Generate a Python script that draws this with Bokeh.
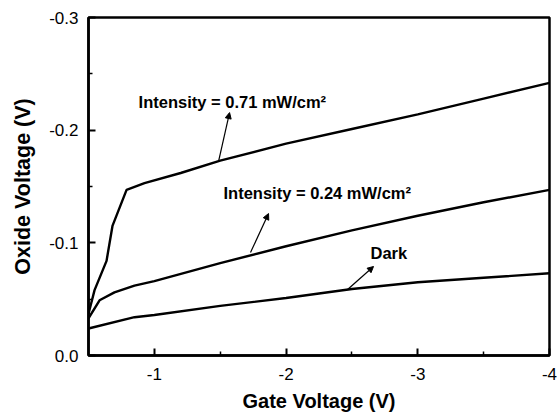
from bokeh.plotting import figure
from bokeh.models import Range1d, FixedTicker, Label, Arrow, NormalHead
from bokeh.embed import file_html
from bokeh.resources import INLINE

# ---- data ----
gate_071 = [-0.5, -0.546, -0.637, -0.682, -0.789, -0.925, -1.2, -1.5, -2.0, -2.5, -3.0, -3.5, -4.0]
oxide_071 = [-0.037, -0.058, -0.084, -0.115, -0.147, -0.153, -0.162, -0.173, -0.188, -0.201, -0.214, -0.228, -0.242]

gate_024 = [-0.5, -0.584, -0.697, -0.849, -1.0, -1.5, -2.0, -2.5, -3.0, -3.5, -4.0]
oxide_024 = [-0.033, -0.049, -0.056, -0.062, -0.066, -0.082, -0.097, -0.111, -0.124, -0.136, -0.147]

gate_dark = [-0.5, -0.849, -1.0, -1.5, -2.0, -2.5, -3.0, -3.5, -4.0]
oxide_dark = [-0.024, -0.034, -0.036, -0.044, -0.051, -0.059, -0.065, -0.069, -0.073]

x_ticks = [-1, -2, -3, -4]
x_tick_labels = ["-1", "-2", "-3", "-4"]
x_minor = [-1.5, -2.5, -3.5]
y_ticks = [0.0, -0.1, -0.2, -0.3]
y_tick_labels = ["0.0", "-0.1", "-0.2", "-0.3"]
y_minor = [-0.05, -0.15, -0.25]

label_texts = ["Intensity = 0.71 mW/cm\u00b2", "Intensity = 0.24 mW/cm\u00b2", "Dark"]
label_x = [-0.88, -1.525, -2.641]
label_y = [-0.2254, -0.1446, -0.0914]
arrow_x0 = [-1.487, -1.730, -2.467]
arrow_y0 = [-0.1721, -0.0914, -0.0586]
arrow_x1 = [-1.571, -1.867, -2.664]
arrow_y1 = [-0.2156, -0.126, -0.079]

FONT = "Liberation Sans"

p = figure(width=557, height=416, output_backend="svg", toolbar_location=None,
           x_range=Range1d(-0.5, -4.0), y_range=Range1d(0.0, -0.3),
           min_border_left=88, min_border_right=8, min_border_top=17, min_border_bottom=61)

p.background_fill_color = "white"
p.border_fill_color = "white"
p.outline_line_color = "black"
p.outline_line_width = 2.5
p.xgrid.visible = False
p.ygrid.visible = False

for ax in (p.xaxis[0], p.yaxis[0]):
    ax.axis_line_width = 2.5
    ax.axis_line_color = "black"
    ax.major_tick_in = 7
    ax.major_tick_out = 0
    ax.minor_tick_in = 4
    ax.minor_tick_out = 0
    ax.major_tick_line_width = 2
    ax.minor_tick_line_width = 1.5
    ax.major_label_text_font = FONT
    ax.major_label_text_font_size = "17px"
    ax.major_label_text_color = "black"
    ax.axis_label_text_font = FONT
    ax.axis_label_text_font_style = "bold"
    ax.axis_label_text_color = "black"

p.xaxis.axis_label_text_font_size = "20px"
p.yaxis.axis_label_text_font_size = "21.5px"

p.xaxis.ticker = FixedTicker(ticks=x_ticks, minor_ticks=x_minor)
p.xaxis.major_label_overrides = {t: l for t, l in zip(x_ticks, x_tick_labels)}
p.yaxis.ticker = FixedTicker(ticks=y_ticks, minor_ticks=y_minor)
p.yaxis.major_label_overrides = {t: l for t, l in zip(y_ticks, y_tick_labels)}

p.xaxis.axis_label = "Gate Voltage (V)"
p.yaxis.axis_label = "Oxide Voltage (V)"
p.xaxis.major_label_standoff = 12
p.xaxis.axis_label_standoff = 7
p.yaxis.major_label_standoff = 10
p.yaxis.axis_label_standoff = 11

for xs, ys in ((gate_071, oxide_071), (gate_024, oxide_024), (gate_dark, oxide_dark)):
    p.line(xs, ys, line_color="black", line_width=2.4)

for t, lx, ly in zip(label_texts, label_x, label_y):
    p.add_layout(Label(x=lx, y=ly, text=t, text_font=FONT, text_font_style="bold",
                       text_font_size="16.5px", text_align="left", text_baseline="middle",
                       text_color="black"))

for x0, y0, x1, y1 in zip(arrow_x0, arrow_y0, arrow_x1, arrow_y1):
    p.add_layout(Arrow(x_start=x0, y_start=y0, x_end=x1, y_end=y1, line_width=1.2,
                       line_color="black",
                       end=NormalHead(size=6, fill_color="black", line_color="black", line_width=1)))

open("out.html", "w").write(file_html(p, INLINE))
